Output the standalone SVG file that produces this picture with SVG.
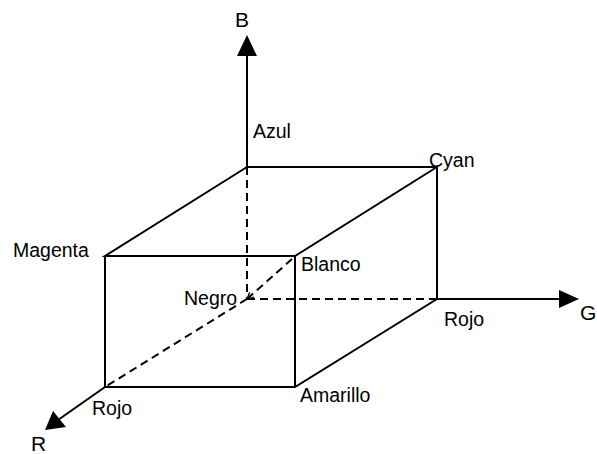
<svg xmlns="http://www.w3.org/2000/svg" width="597" height="454" viewBox="0 0 597 454">
<style>
.e{stroke:#000;stroke-width:2;fill:none;stroke-linecap:round}
.d{stroke:#000;stroke-width:2;fill:none;stroke-dasharray:8 5}
.lbl{font-family:"Liberation Sans",Arial,sans-serif;font-size:19.5px;fill:#000}
.ax{font-family:"Liberation Sans",Arial,sans-serif;font-size:21px;fill:#000}
</style>
<defs>
<marker id="open" viewBox="0 0 10 10" refX="9" refY="5" markerWidth="8" markerHeight="8" markerUnits="userSpaceOnUse" orient="auto">
<path d="M1,1 L9,5 L1,9" fill="none" stroke="#000" stroke-width="1.6"/>
</marker>
</defs>
<rect width="597" height="454" fill="#fff"/>
<g id="connectors">
<line class="e" x1="247" y1="167" x2="247" y2="52"/>
<polygon points="247,35 237,56 257,56" fill="#000"/>
<line class="e" x1="437" y1="299" x2="562" y2="299"/>
<polygon points="579,299 559,290 559,308" fill="#000"/>
<line class="e" x1="105" y1="387" x2="58" y2="420"/>
<polygon points="45,430 53,411 66,427" fill="#000"/>
<path class="e" d="M247,167 L437,167 M247,167 L105,256 L295,256 L437,167 L437,299 L295,387 L105,387 L105,256 M295,256 L295,387"/>
<line class="d" x1="247" y1="167" x2="247" y2="299"/>
<line class="d" x1="247" y1="299" x2="437" y2="299"/>
<line class="d" x1="247" y1="299" x2="105" y2="387"/>
<line class="d" x1="292" y1="259" x2="247" y2="299" marker-end="url(#open)"/>
</g>
<g id="B"><text class="ax" x="235" y="27">B</text></g>
<g id="G"><text class="ax" x="580" y="320">G</text></g>
<g id="R"><text class="ax" x="31" y="451">R</text></g>
<g id="Azul"><text class="lbl" x="253" y="138">Azul</text></g>
<g id="Cyan"><text class="lbl" x="429" y="167">Cyan</text></g>
<g id="Magenta"><text class="lbl" x="13" y="257">Magenta</text></g>
<g id="Blanco"><text class="lbl" x="301" y="271">Blanco</text></g>
<g id="Negro"><text class="lbl" x="184" y="305">Negro</text></g>
<g id="RojoG"><text class="lbl" x="444" y="326">Rojo</text></g>
<g id="RojoR"><text class="lbl" x="92" y="415">Rojo</text></g>
<g id="Amarillo"><text class="lbl" x="300" y="402">Amarillo</text></g>
</svg>
